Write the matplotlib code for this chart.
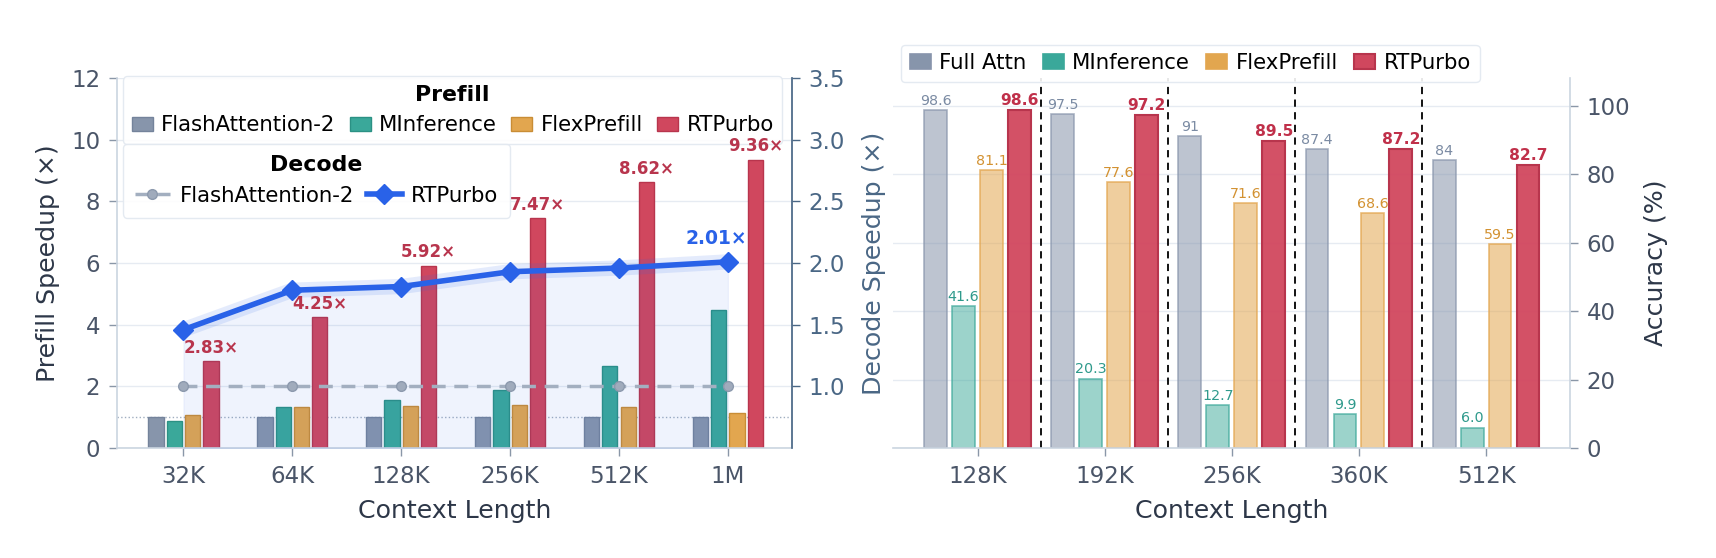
import matplotlib
matplotlib.use('Agg')
import matplotlib.pyplot as plt
import numpy as np

# ---------------- data ----------------
contexts_left = ['32K', '64K', '128K', '256K', '512K', '1M']
prefill_fa2 = [1.0, 1.0, 1.0, 1.0, 1.0, 1.0]
prefill_minf = [0.87, 1.32, 1.57, 1.89, 2.65, 4.49]
prefill_flex = [1.08, 1.32, 1.38, 1.39, 1.32, 1.14]
prefill_rtp = [2.83, 4.25, 5.92, 7.47, 8.62, 9.36]
decode_fa2 = [1.0, 1.0, 1.0, 1.0, 1.0, 1.0]
decode_rtp = [1.46, 1.78, 1.81, 1.93, 1.96, 2.01]

contexts_right = ['128K', '192K', '256K', '360K', '512K']
acc_full = [98.6, 97.5, 91, 87.4, 84]
acc_minf = [41.6, 20.3, 12.7, 9.9, 6.0]
acc_flex = [81.1, 77.6, 71.6, 68.6, 59.5]
acc_rtp = [98.6, 97.2, 89.5, 87.2, 82.7]

prefill_names = ['FlashAttention-2', 'MInference', 'FlexPrefill', 'RTPurbo']
acc_names = ['Full Attn', 'MInference', 'FlexPrefill', 'RTPurbo']

# ---------------- style ----------------
plt.rcParams['font.family'] = ['DejaVu Sans']
C_GRAY = '#8795ab'
C_GRAY_E = '#74839b'
C_TEAL = '#3aa89a'
C_TEAL_E = '#2b9184'
C_ORANGE = '#e2a64f'
C_ORANGE_E = '#c98d35'
C_RED = '#d0475e'
C_RED_E = '#b8354d'
C_BLUE = '#2962e8'
C_DGRAY = '#a3afc0'
TICK_C = '#4a5568'
LABEL_C = '#2d3748'
SPINE_C = '#cbd5e0'
GRID_C = '#e6ebf2'
DEC_C = '#4a6785'

TICK_FS = 16.5
LABEL_FS = 18.2
LEG_FS = 15.3

fig = plt.figure(figsize=(17.16, 5.58), dpi=100)
fig.patch.set_facecolor('white')

# ================= left panel =================
ax1 = fig.add_axes([0.0682, 0.197, 0.3934, 0.663])
x = np.arange(len(contexts_left))
w = 0.14
sp = 0.168
series = [(prefill_fa2, C_GRAY, C_GRAY_E), (prefill_minf, C_TEAL, C_TEAL_E),
          (prefill_flex, C_ORANGE, C_ORANGE_E), (prefill_rtp, C_RED, C_RED_E)]
bar_handles = []
for i, (vals, fc, ec) in enumerate(series):
    b = ax1.bar(x + (i - 1.5) * sp, vals, w, color=fc, edgecolor=ec, linewidth=1.0, zorder=2)
    bar_handles.append(b)

ax1.axhline(1.0, color='#a0aec0', ls=':', lw=1.0, zorder=1)
ax1.set_xlim(-0.61, 5.59)
ax1.set_ylim(0, 12)
ax1.set_yticks(range(0, 13, 2))
ax1.set_xticks(x)
ax1.set_xticklabels(contexts_left)
ax1.grid(axis='y', color=GRID_C, lw=1.0, zorder=0)
ax1.set_axisbelow(True)
ax1.tick_params(axis='both', labelsize=TICK_FS, colors=TICK_C, length=6, width=1.0, pad=6)
ax1.tick_params(axis='both', color='#8a97a8')
ax1.set_ylabel('Prefill Speedup (×)', fontsize=LABEL_FS, color=LABEL_C, labelpad=8)
ax1.set_xlabel('Context Length', fontsize=LABEL_FS, color=LABEL_C, labelpad=8)
ax1.spines['top'].set_visible(False)
for s in ['left', 'bottom', 'right']:
    ax1.spines[s].set_color(SPINE_C)
    ax1.spines[s].set_linewidth(1.2)

ax1b = ax1.twinx()
ax1b.set_ylim(0.5, 3.5)
ax1b.set_yticks([1.0, 1.5, 2.0, 2.5, 3.0, 3.5])
ax1b.fill_between(x, 0.5, decode_rtp, color=C_BLUE, alpha=0.07, lw=0.8,
                  edgecolor=(0.16, 0.38, 0.91, 0.15), zorder=1)
ax1b.plot(x, decode_rtp, color=C_BLUE, lw=11, alpha=0.12, solid_capstyle='round', zorder=2)
l_fa2, = ax1b.plot(x, decode_fa2, color=C_DGRAY, ls='--', lw=2.5, dashes=(4, 2.5), marker='o', ms=7,
                   mfc='#a0abbc', mec='#8c99ad', label='FlashAttention-2', zorder=3)
l_rtp, = ax1b.plot(x, decode_rtp, color=C_BLUE, lw=4, marker='D', ms=10, mfc=C_BLUE, mec=C_BLUE,
                   label='RTPurbo', zorder=4)
ax1b.annotate(f'{decode_rtp[-1]:.2f}×', (x[-1], decode_rtp[-1]), xytext=(-8, 10), textcoords='offset points',
              ha='center', va='bottom', fontsize=13.5, fontweight='bold', color=C_BLUE, zorder=5)

# prefill speedup labels (drawn on the top axes, in prefill data coordinates)
for xi, v in zip(x, prefill_rtp):
    ax1b.annotate(f'{v:.2f}×', (xi + 1.5 * sp, v), xycoords=ax1.transData, xytext=(0, 3),
                  textcoords='offset points', ha='center', va='bottom', fontsize=12,
                  fontweight='bold', color='#b8354d', zorder=11)

ax1b.tick_params(axis='y', labelsize=TICK_FS, colors=DEC_C, length=6, width=1.0, pad=6)
ax1b.set_ylabel('Decode Speedup (×)', fontsize=LABEL_FS, color=DEC_C, labelpad=12)
ax1b.spines['right'].set_color(DEC_C)
ax1b.spines['right'].set_linewidth(1.2)
for s in ['top', 'left', 'bottom']:
    ax1b.spines[s].set_visible(False)

leg_kw = dict(fontsize=LEG_FS, frameon=True, fancybox=True, framealpha=0.9, edgecolor='#e2e8f0',
              title_fontproperties={'weight': 'bold', 'size': LEG_FS + 0.5})
leg1 = ax1b.legend(bar_handles, prefill_names, title='Prefill', ncol=4, loc='upper left',
                   bbox_to_anchor=(0.009, 1.005), borderaxespad=0, handlelength=1.0, handletextpad=0.4,
                   columnspacing=0.65, **leg_kw)
ax1b.add_artist(leg1)
leg2 = ax1b.legend([l_fa2, l_rtp], ['FlashAttention-2', 'RTPurbo'], title='Decode', ncol=2, loc='upper left',
                   bbox_to_anchor=(0.009, 0.823), borderaxespad=0, handlelength=1.65, handletextpad=0.45,
                   columnspacing=0.6, borderpad=0.55, **leg_kw)
for lg in (leg1, leg2):
    lg.set_zorder(10)

# ================= right panel =================
ax2 = fig.add_axes([0.5204, 0.197, 0.3945, 0.663])
x2 = np.arange(len(contexts_right))
w2 = 0.18
sp2 = 0.22
rseries = [
    (acc_full, (0.53, 0.58, 0.67, 0.55), (0.53, 0.58, 0.67, 0.7), '#7b8ba3', 10.3, 'normal'),
    (acc_minf, (0.23, 0.66, 0.60, 0.5), (0.23, 0.66, 0.60, 0.7), '#2f9a8c', 10.3, 'normal'),
    (acc_flex, (0.89, 0.65, 0.31, 0.55), (0.89, 0.65, 0.31, 0.75), '#d39232', 10.3, 'normal'),
    (acc_rtp, (0.82, 0.28, 0.37, 0.95), '#b8354d', '#c0304a', 11.2, 'bold'),
]
acc_handles = []
for i, (vals, fc, ec, tc, fs, fw) in enumerate(rseries):
    xs = x2 + (i - 1.5) * sp2
    b = ax2.bar(xs, vals, w2, color=fc, edgecolor=ec, linewidth=1.5 if i == 3 else 1.2, zorder=2)
    acc_handles.append(b)
    for xi, v in zip(xs, vals):
        ax2.text(xi, v + 0.6, f'{v}', ha='center', va='bottom', fontsize=fs, fontweight=fw, color=tc, zorder=3)

for xv in [0.5, 1.5, 2.5, 3.5]:
    ax2.axvline(xv, color='black', ls='--', lw=1.3, dashes=(4, 3), zorder=1)

ax2.set_xlim(-0.665, 4.66)
ax2.set_ylim(0, 108)
ax2.set_yticks(range(0, 101, 20))
ax2.set_xticks(x2)
ax2.set_xticklabels(contexts_right)
ax2.yaxis.tick_right()
ax2.yaxis.set_label_position('right')
ax2.grid(axis='y', color=GRID_C, lw=1.0, zorder=0)
ax2.set_axisbelow(True)
ax2.tick_params(axis='both', labelsize=TICK_FS, colors=TICK_C, length=6, width=1.0, pad=6)
ax2.tick_params(axis='both', color='#8a97a8')
ax2.set_ylabel('Accuracy (%)', fontsize=LABEL_FS, color=LABEL_C, labelpad=10)
ax2.set_xlabel('Context Length', fontsize=LABEL_FS, color=LABEL_C, labelpad=8)
for s in ['top', 'left']:
    ax2.spines[s].set_visible(False)
for s in ['bottom', 'right']:
    ax2.spines[s].set_color(SPINE_C)
    ax2.spines[s].set_linewidth(1.2)

leg3 = ax2.legend(acc_handles, acc_names, ncol=4, loc='lower left', bbox_to_anchor=(0.012, 0.99),
                  borderaxespad=0, handlelength=1.0, handletextpad=0.4, columnspacing=0.75,
                  fontsize=LEG_FS, frameon=True, fancybox=True, framealpha=0.9, edgecolor='#e2e8f0')
for h, c in zip(leg3.legend_handles, [C_GRAY, C_TEAL, C_ORANGE, C_RED]):
    h.set_facecolor(c)
    h.set_alpha(1.0)

fig.savefig('out.png', dpi=100, facecolor='white')
